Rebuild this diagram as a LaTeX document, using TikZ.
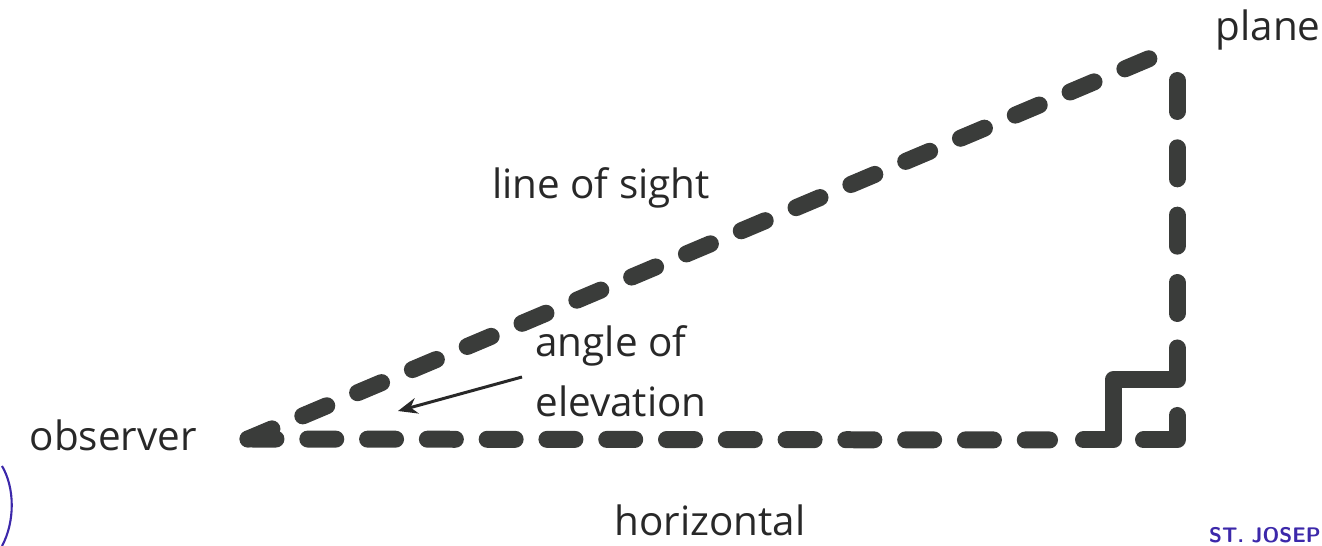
\documentclass[tikz,border=0pt]{standalone}
\usepackage{fontspec}
\setmainfont{Open Sans}
\usetikzlibrary{arrows.meta}
\definecolor{ink}{RGB}{58,60,58}
\definecolor{txt}{RGB}{40,40,40}
\definecolor{stamp}{RGB}{60,40,170}

\begin{document}
\begin{tikzpicture}[x=0.02cm, y=-0.02cm, >={Stealth[length=11pt, width=9pt]},
                thickline/.style={draw=ink, line width=0.34cm, line cap=round, line join=round},
                lbl/.style={text=txt, font=\fontsize{23}{27}\selectfont, inner sep=0pt}
            ]

            \useasboundingbox (0,0) rectangle (1322,546);

            % Triangle corners
            \coordinate (O) at (248, 439);
            \coordinate (H) at (1049.5, 440);
            \coordinate (P) at (1153, 57);
            \coordinate (T) at (1177, 80.5);
            \coordinate (V) at (1177, 313.5);
            \coordinate (C) at (1177, 440);

            % Horizontal, vertical and line of sight
            \draw[thickline, dash pattern=on 0.56cm off 0.636cm] (O) -- (H);
            \draw[thickline, dash pattern=on 0.62cm off 0.727cm] (T) -- (V);
            \draw[thickline, dash pattern=on 0.52cm off 0.67cm] (O) -- (P);

            % Right angle mark
            \draw[thickline] (1083.5, 440) -- (1113, 440) -- (1113, 380) -- (1177, 380) -- (1177, 348);
            \draw[thickline] (1143.5, 440) -- (C) -- (1177, 415.5);

            % Labels
            \node[lbl] (plane) at (1268, 30) {plane};
            \node[lbl] (sight) at (601, 188) {line of sight};
            \node[lbl, align=left] (angle) at (621, 371) {angle of\\[7pt]elevation};
            \node[lbl, anchor=east] (obs) at (197, 435) {observer};
            \node[lbl] (horiz) at (710, 520) {horizontal};

            % Angle arrow
            \coordinate (tip) at (398, 411);
            \draw[->, txt, line width=1.7pt] (522, 377) -- (tip);

            % Stamp remains
            \node[text=stamp, font=\sffamily\bfseries\fontsize{12}{13}\selectfont, anchor=east, inner sep=0pt] (stampname) at (1321, 535) {ST. JOSEP};
            \draw[stamp, line width=1.2pt] (2, 466) .. controls (15, 488) and (15, 522) .. (2, 546);

        \end{tikzpicture}
\end{document}
